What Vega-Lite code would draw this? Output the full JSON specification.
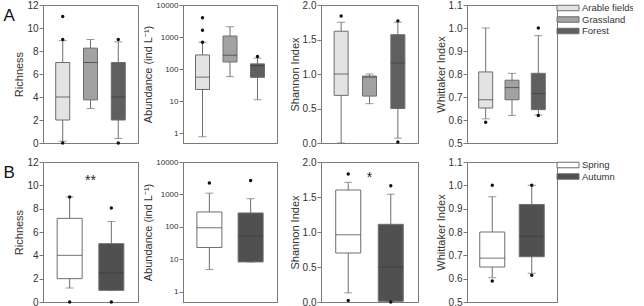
{
"$schema":"https://vega.github.io/schema/vega-lite/v6.json",
"padding":{"left":3,"top":-1,"right":0,"bottom":0},
"datasets":{
"stats":[
{"row":"A","var":"Richness","group":"Arable fields","lo":0.15,"q1":2,"med":4,"q3":7,"hi":8.9},
{"row":"A","var":"Richness","group":"Grassland","lo":3,"q1":3.75,"med":7,"q3":8.25,"hi":9},
{"row":"A","var":"Richness","group":"Forest","lo":0.4,"q1":2,"med":4,"q3":7,"hi":8.8},
{"row":"A","var":"Abundance","group":"Arable fields","lo":0.77,"q1":23,"med":56,"q3":276,"hi":690},
{"row":"A","var":"Abundance","group":"Grassland","lo":58,"q1":166,"med":270,"q3":1075,"hi":2100},
{"row":"A","var":"Abundance","group":"Forest","lo":11,"q1":55,"med":128,"q3":145,"hi":218},
{"row":"A","var":"Shannon","group":"Arable fields","lo":0.0,"q1":0.69,"med":1.0,"q3":1.62,"hi":1.75},
{"row":"A","var":"Shannon","group":"Grassland","lo":0.57,"q1":0.68,"med":0.955,"q3":0.97,"hi":1.0},
{"row":"A","var":"Shannon","group":"Forest","lo":0.07,"q1":0.5,"med":1.16,"q3":1.57,"hi":1.75},
{"row":"A","var":"Whittaker","group":"Arable fields","lo":0.605,"q1":0.652,"med":0.688,"q3":0.809,"hi":1.0},
{"row":"A","var":"Whittaker","group":"Grassland","lo":0.62,"q1":0.688,"med":0.741,"q3":0.773,"hi":0.803},
{"row":"A","var":"Whittaker","group":"Forest","lo":0.622,"q1":0.645,"med":0.715,"q3":0.803,"hi":0.967},
{"row":"B","var":"Richness","group":"Spring","lo":1.2,"q1":2,"med":4,"q3":7.17,"hi":9.0},
{"row":"B","var":"Richness","group":"Autumn","lo":1.0,"q1":1.0,"med":2.5,"q3":5.0,"hi":6.9},
{"row":"B","var":"Abundance","group":"Spring","lo":4.9,"q1":23.4,"med":94,"q3":290,"hi":1100},
{"row":"B","var":"Abundance","group":"Autumn","lo":8.4,"q1":8.4,"med":53,"q3":270,"hi":740},
{"row":"B","var":"Shannon","group":"Spring","lo":0.13,"q1":0.7,"med":0.96,"q3":1.6,"hi":1.71},
{"row":"B","var":"Shannon","group":"Autumn","lo":0.01,"q1":0.01,"med":0.5,"q3":1.11,"hi":1.54},
{"row":"B","var":"Whittaker","group":"Spring","lo":0.604,"q1":0.65,"med":0.688,"q3":0.8,"hi":0.951},
{"row":"B","var":"Whittaker","group":"Autumn","lo":0.623,"q1":0.694,"med":0.782,"q3":0.918,"hi":1.0}
],
"outliers":[
{"row":"A","var":"Richness","group":"Arable fields","v":11},
{"row":"A","var":"Richness","group":"Arable fields","v":9},
{"row":"A","var":"Richness","group":"Arable fields","v":0},
{"row":"A","var":"Richness","group":"Forest","v":9},
{"row":"A","var":"Richness","group":"Forest","v":0},
{"row":"A","var":"Abundance","group":"Arable fields","v":4000},
{"row":"A","var":"Abundance","group":"Arable fields","v":1620},
{"row":"A","var":"Abundance","group":"Arable fields","v":690},
{"row":"A","var":"Abundance","group":"Forest","v":245},
{"row":"A","var":"Shannon","group":"Arable fields","v":1.84},
{"row":"A","var":"Shannon","group":"Forest","v":1.77},
{"row":"A","var":"Shannon","group":"Forest","v":0.015},
{"row":"A","var":"Whittaker","group":"Arable fields","v":0.59},
{"row":"A","var":"Whittaker","group":"Forest","v":1.0},
{"row":"A","var":"Whittaker","group":"Forest","v":0.62},
{"row":"B","var":"Richness","group":"Spring","v":9.0},
{"row":"B","var":"Richness","group":"Spring","v":0},
{"row":"B","var":"Richness","group":"Autumn","v":8.05},
{"row":"B","var":"Richness","group":"Autumn","v":0},
{"row":"B","var":"Abundance","group":"Spring","v":2250},
{"row":"B","var":"Abundance","group":"Autumn","v":2700},
{"row":"B","var":"Shannon","group":"Spring","v":1.83},
{"row":"B","var":"Shannon","group":"Spring","v":0.02},
{"row":"B","var":"Shannon","group":"Autumn","v":1.66},
{"row":"B","var":"Shannon","group":"Autumn","v":0.0},
{"row":"B","var":"Whittaker","group":"Spring","v":1.0},
{"row":"B","var":"Whittaker","group":"Spring","v":0.59},
{"row":"B","var":"Whittaker","group":"Autumn","v":1.0},
{"row":"B","var":"Whittaker","group":"Autumn","v":0.615}
],
"notes":[
{"row":"B","var":"Richness","label":"**","v":10.4},
{"row":"B","var":"Shannon","label":"*","v":1.77}
]
},
"spacing":7,
"resolve":{"scale":{"color":"independent"},"legend":{"color":"independent"}},
"vconcat":[
{
"title":{"text":"A","anchor":"start","frame":"bounds","fontSize":17,"fontWeight":"normal","offset":-25,"dx":-10,"color":"#111"},
"spacing":10,
"resolve":{"scale":{"color":"independent"},"legend":{"color":"independent"}},
"hconcat":[
{"spacing":3,"resolve":{"scale":{"color":"independent"},"legend":{"color":"independent"}},"hconcat":[
{"width":95,"height":138,"layer":[
{"data":{"name":"stats"},"transform":[{"filter":"datum.row=='A'&&datum.var=='Richness'"}],"mark":{"type":"rule","color":"#6e6e6e"},
 "encoding":{"x":{"field":"group","type":"nominal","title":null,"scale":{"type":"point","domain":["Arable fields","Grassland","Forest"],"padding":0.71},"axis":{"labels":false,"ticks":false,"domain":true}},
 "y":{"field":"lo","type":"quantitative","scale":{"domain":[0,12],"nice":false,"zero":false},"axis":{"title":"Richness","values":[0,2,4,6,8,10,12]}},"y2":{"field":"hi"}}},
{"data":{"name":"stats"},"transform":[{"filter":"datum.row=='A'&&datum.var=='Richness'"}],"mark":{"type":"tick","color":"#6e6e6e","size":8,"thickness":1},
 "encoding":{"x":{"field":"group","type":"nominal","title":null,"scale":{"type":"point","domain":["Arable fields","Grassland","Forest"],"padding":0.71},"axis":{"labels":false,"ticks":false,"domain":true}},
 "y":{"field":"lo","type":"quantitative","scale":{"domain":[0,12],"nice":false,"zero":false},"axis":{"title":"Richness","values":[0,2,4,6,8,10,12]}}}},
{"data":{"name":"stats"},"transform":[{"filter":"datum.row=='A'&&datum.var=='Richness'"}],"mark":{"type":"tick","color":"#6e6e6e","size":8,"thickness":1},
 "encoding":{"x":{"field":"group","type":"nominal","title":null,"scale":{"type":"point","domain":["Arable fields","Grassland","Forest"],"padding":0.71},"axis":{"labels":false,"ticks":false,"domain":true}},
 "y":{"field":"hi","type":"quantitative","scale":{"domain":[0,12],"nice":false,"zero":false},"axis":{"title":"Richness","values":[0,2,4,6,8,10,12]}}}},
{"data":{"name":"stats"},"transform":[{"filter":"datum.row=='A'&&datum.var=='Richness'"}],"mark":{"type":"bar","size":14,"stroke":"#6e6e6e","strokeWidth":1},
 "encoding":{"x":{"field":"group","type":"nominal","title":null,"scale":{"type":"point","domain":["Arable fields","Grassland","Forest"],"padding":0.71},"axis":{"labels":false,"ticks":false,"domain":true}},
 "y":{"field":"q1","type":"quantitative","scale":{"domain":[0,12],"nice":false,"zero":false},"axis":{"title":"Richness","values":[0,2,4,6,8,10,12]}},"y2":{"field":"q3"},
 "color":{"field":"group","type":"nominal","scale":{"domain":["Arable fields","Grassland","Forest"],"range":["#e3e3e3","#a2a2a2","#5f5f5f"]},"legend":null}}},
{"data":{"name":"stats"},"transform":[{"filter":"datum.row=='A'&&datum.var=='Richness'"}],"mark":{"type":"tick","color":"#3a3a3a","size":14,"thickness":1},
 "encoding":{"x":{"field":"group","type":"nominal","title":null,"scale":{"type":"point","domain":["Arable fields","Grassland","Forest"],"padding":0.71},"axis":{"labels":false,"ticks":false,"domain":true}},
 "y":{"field":"med","type":"quantitative","scale":{"domain":[0,12],"nice":false,"zero":false},"axis":{"title":"Richness","values":[0,2,4,6,8,10,12]}}}},
{"data":{"name":"outliers"},"transform":[{"filter":"datum.row=='A'&&datum.var=='Richness'"}],"mark":{"type":"point","filled":true,"color":"#111","size":12,"opacity":1},
 "encoding":{"x":{"field":"group","type":"nominal","title":null,"scale":{"type":"point","domain":["Arable fields","Grassland","Forest"],"padding":0.71},"axis":{"labels":false,"ticks":false,"domain":true}},
 "y":{"field":"v","type":"quantitative","scale":{"domain":[0,12],"nice":false,"zero":false},"axis":{"title":"Richness","values":[0,2,4,6,8,10,12]}}}}
]},
{"width":94,"height":138,"layer":[
{"data":{"name":"stats"},"transform":[{"filter":"datum.row=='A'&&datum.var=='Abundance'"}],"mark":{"type":"rule","color":"#6e6e6e"},
 "encoding":{"x":{"field":"group","type":"nominal","title":null,"scale":{"type":"point","domain":["Arable fields","Grassland","Forest"],"padding":0.71},"axis":{"labels":false,"ticks":false,"domain":true}},
 "y":{"field":"lo","type":"quantitative","scale":{"type":"log","domain":[0.49,10000],"nice":false},"axis":{"title":"Abundance (ind L⁻¹)","values":[1,10,100,1000,10000],"format":"d","labelFontSize":8,"titlePadding":2}},"y2":{"field":"hi"}}},
{"data":{"name":"stats"},"transform":[{"filter":"datum.row=='A'&&datum.var=='Abundance'"}],"mark":{"type":"tick","color":"#6e6e6e","size":8,"thickness":1},
 "encoding":{"x":{"field":"group","type":"nominal","title":null,"scale":{"type":"point","domain":["Arable fields","Grassland","Forest"],"padding":0.71},"axis":{"labels":false,"ticks":false,"domain":true}},
 "y":{"field":"lo","type":"quantitative","scale":{"type":"log","domain":[0.49,10000],"nice":false},"axis":{"title":"Abundance (ind L⁻¹)","values":[1,10,100,1000,10000],"format":"d","labelFontSize":8,"titlePadding":2}}}},
{"data":{"name":"stats"},"transform":[{"filter":"datum.row=='A'&&datum.var=='Abundance'"}],"mark":{"type":"tick","color":"#6e6e6e","size":8,"thickness":1},
 "encoding":{"x":{"field":"group","type":"nominal","title":null,"scale":{"type":"point","domain":["Arable fields","Grassland","Forest"],"padding":0.71},"axis":{"labels":false,"ticks":false,"domain":true}},
 "y":{"field":"hi","type":"quantitative","scale":{"type":"log","domain":[0.49,10000],"nice":false},"axis":{"title":"Abundance (ind L⁻¹)","values":[1,10,100,1000,10000],"format":"d","labelFontSize":8,"titlePadding":2}}}},
{"data":{"name":"stats"},"transform":[{"filter":"datum.row=='A'&&datum.var=='Abundance'"}],"mark":{"type":"bar","size":14,"stroke":"#6e6e6e","strokeWidth":1},
 "encoding":{"x":{"field":"group","type":"nominal","title":null,"scale":{"type":"point","domain":["Arable fields","Grassland","Forest"],"padding":0.71},"axis":{"labels":false,"ticks":false,"domain":true}},
 "y":{"field":"q1","type":"quantitative","scale":{"type":"log","domain":[0.49,10000],"nice":false},"axis":{"title":"Abundance (ind L⁻¹)","values":[1,10,100,1000,10000],"format":"d","labelFontSize":8,"titlePadding":2}},"y2":{"field":"q3"},
 "color":{"field":"group","type":"nominal","scale":{"domain":["Arable fields","Grassland","Forest"],"range":["#e3e3e3","#a2a2a2","#5f5f5f"]},"legend":null}}},
{"data":{"name":"stats"},"transform":[{"filter":"datum.row=='A'&&datum.var=='Abundance'"}],"mark":{"type":"tick","color":"#3a3a3a","size":14,"thickness":1},
 "encoding":{"x":{"field":"group","type":"nominal","title":null,"scale":{"type":"point","domain":["Arable fields","Grassland","Forest"],"padding":0.71},"axis":{"labels":false,"ticks":false,"domain":true}},
 "y":{"field":"med","type":"quantitative","scale":{"type":"log","domain":[0.49,10000],"nice":false},"axis":{"title":"Abundance (ind L⁻¹)","values":[1,10,100,1000,10000],"format":"d","labelFontSize":8,"titlePadding":2}}}},
{"data":{"name":"outliers"},"transform":[{"filter":"datum.row=='A'&&datum.var=='Abundance'"}],"mark":{"type":"point","filled":true,"color":"#111","size":12,"opacity":1},
 "encoding":{"x":{"field":"group","type":"nominal","title":null,"scale":{"type":"point","domain":["Arable fields","Grassland","Forest"],"padding":0.71},"axis":{"labels":false,"ticks":false,"domain":true}},
 "y":{"field":"v","type":"quantitative","scale":{"type":"log","domain":[0.49,10000],"nice":false},"axis":{"title":"Abundance (ind L⁻¹)","values":[1,10,100,1000,10000],"format":"d","labelFontSize":8,"titlePadding":2}}}}
]}
]},
{"spacing":15,"resolve":{"scale":{"color":"independent"},"legend":{"color":"independent"}},"hconcat":[
{"width":97,"height":138,"layer":[
{"data":{"name":"stats"},"transform":[{"filter":"datum.row=='A'&&datum.var=='Shannon'"}],"mark":{"type":"rule","color":"#6e6e6e"},
 "encoding":{"x":{"field":"group","type":"nominal","title":null,"scale":{"type":"point","domain":["Arable fields","Grassland","Forest"],"padding":0.71},"axis":{"labels":false,"ticks":false,"domain":true}},
 "y":{"field":"lo","type":"quantitative","scale":{"domain":[0,2],"nice":false,"zero":false},"axis":{"title":"Shannon Index","values":[0,0.5,1,1.5,2],"format":".1f"}},"y2":{"field":"hi"}}},
{"data":{"name":"stats"},"transform":[{"filter":"datum.row=='A'&&datum.var=='Shannon'"}],"mark":{"type":"tick","color":"#6e6e6e","size":8,"thickness":1},
 "encoding":{"x":{"field":"group","type":"nominal","title":null,"scale":{"type":"point","domain":["Arable fields","Grassland","Forest"],"padding":0.71},"axis":{"labels":false,"ticks":false,"domain":true}},
 "y":{"field":"lo","type":"quantitative","scale":{"domain":[0,2],"nice":false,"zero":false},"axis":{"title":"Shannon Index","values":[0,0.5,1,1.5,2],"format":".1f"}}}},
{"data":{"name":"stats"},"transform":[{"filter":"datum.row=='A'&&datum.var=='Shannon'"}],"mark":{"type":"tick","color":"#6e6e6e","size":8,"thickness":1},
 "encoding":{"x":{"field":"group","type":"nominal","title":null,"scale":{"type":"point","domain":["Arable fields","Grassland","Forest"],"padding":0.71},"axis":{"labels":false,"ticks":false,"domain":true}},
 "y":{"field":"hi","type":"quantitative","scale":{"domain":[0,2],"nice":false,"zero":false},"axis":{"title":"Shannon Index","values":[0,0.5,1,1.5,2],"format":".1f"}}}},
{"data":{"name":"stats"},"transform":[{"filter":"datum.row=='A'&&datum.var=='Shannon'"}],"mark":{"type":"bar","size":14,"stroke":"#6e6e6e","strokeWidth":1},
 "encoding":{"x":{"field":"group","type":"nominal","title":null,"scale":{"type":"point","domain":["Arable fields","Grassland","Forest"],"padding":0.71},"axis":{"labels":false,"ticks":false,"domain":true}},
 "y":{"field":"q1","type":"quantitative","scale":{"domain":[0,2],"nice":false,"zero":false},"axis":{"title":"Shannon Index","values":[0,0.5,1,1.5,2],"format":".1f"}},"y2":{"field":"q3"},
 "color":{"field":"group","type":"nominal","scale":{"domain":["Arable fields","Grassland","Forest"],"range":["#e3e3e3","#a2a2a2","#5f5f5f"]},"legend":null}}},
{"data":{"name":"stats"},"transform":[{"filter":"datum.row=='A'&&datum.var=='Shannon'"}],"mark":{"type":"tick","color":"#3a3a3a","size":14,"thickness":1},
 "encoding":{"x":{"field":"group","type":"nominal","title":null,"scale":{"type":"point","domain":["Arable fields","Grassland","Forest"],"padding":0.71},"axis":{"labels":false,"ticks":false,"domain":true}},
 "y":{"field":"med","type":"quantitative","scale":{"domain":[0,2],"nice":false,"zero":false},"axis":{"title":"Shannon Index","values":[0,0.5,1,1.5,2],"format":".1f"}}}},
{"data":{"name":"outliers"},"transform":[{"filter":"datum.row=='A'&&datum.var=='Shannon'"}],"mark":{"type":"point","filled":true,"color":"#111","size":12,"opacity":1},
 "encoding":{"x":{"field":"group","type":"nominal","title":null,"scale":{"type":"point","domain":["Arable fields","Grassland","Forest"],"padding":0.71},"axis":{"labels":false,"ticks":false,"domain":true}},
 "y":{"field":"v","type":"quantitative","scale":{"domain":[0,2],"nice":false,"zero":false},"axis":{"title":"Shannon Index","values":[0,0.5,1,1.5,2],"format":".1f"}}}}
]},
{"width":90,"height":138,"layer":[
{"data":{"name":"stats"},"transform":[{"filter":"datum.row=='A'&&datum.var=='Whittaker'"}],"mark":{"type":"rule","color":"#6e6e6e"},
 "encoding":{"x":{"field":"group","type":"nominal","title":null,"scale":{"type":"point","domain":["Arable fields","Grassland","Forest"],"padding":0.71},"axis":{"labels":false,"ticks":false,"domain":true}},
 "y":{"field":"lo","type":"quantitative","scale":{"domain":[0.5,1.1],"nice":false,"zero":false},"axis":{"title":"Whittaker Index","values":[0.5,0.6,0.7,0.8,0.9,1.0,1.1],"format":".1f"}},"y2":{"field":"hi"}}},
{"data":{"name":"stats"},"transform":[{"filter":"datum.row=='A'&&datum.var=='Whittaker'"}],"mark":{"type":"tick","color":"#6e6e6e","size":8,"thickness":1},
 "encoding":{"x":{"field":"group","type":"nominal","title":null,"scale":{"type":"point","domain":["Arable fields","Grassland","Forest"],"padding":0.71},"axis":{"labels":false,"ticks":false,"domain":true}},
 "y":{"field":"lo","type":"quantitative","scale":{"domain":[0.5,1.1],"nice":false,"zero":false},"axis":{"title":"Whittaker Index","values":[0.5,0.6,0.7,0.8,0.9,1.0,1.1],"format":".1f"}}}},
{"data":{"name":"stats"},"transform":[{"filter":"datum.row=='A'&&datum.var=='Whittaker'"}],"mark":{"type":"tick","color":"#6e6e6e","size":8,"thickness":1},
 "encoding":{"x":{"field":"group","type":"nominal","title":null,"scale":{"type":"point","domain":["Arable fields","Grassland","Forest"],"padding":0.71},"axis":{"labels":false,"ticks":false,"domain":true}},
 "y":{"field":"hi","type":"quantitative","scale":{"domain":[0.5,1.1],"nice":false,"zero":false},"axis":{"title":"Whittaker Index","values":[0.5,0.6,0.7,0.8,0.9,1.0,1.1],"format":".1f"}}}},
{"data":{"name":"stats"},"transform":[{"filter":"datum.row=='A'&&datum.var=='Whittaker'"}],"mark":{"type":"bar","size":14,"stroke":"#6e6e6e","strokeWidth":1},
 "encoding":{"x":{"field":"group","type":"nominal","title":null,"scale":{"type":"point","domain":["Arable fields","Grassland","Forest"],"padding":0.71},"axis":{"labels":false,"ticks":false,"domain":true}},
 "y":{"field":"q1","type":"quantitative","scale":{"domain":[0.5,1.1],"nice":false,"zero":false},"axis":{"title":"Whittaker Index","values":[0.5,0.6,0.7,0.8,0.9,1.0,1.1],"format":".1f"}},"y2":{"field":"q3"},
 "color":{"field":"group","type":"nominal","scale":{"domain":["Arable fields","Grassland","Forest"],"range":["#e3e3e3","#a2a2a2","#5f5f5f"]},"legend":{"title":null}}}},
{"data":{"name":"stats"},"transform":[{"filter":"datum.row=='A'&&datum.var=='Whittaker'"}],"mark":{"type":"tick","color":"#3a3a3a","size":14,"thickness":1},
 "encoding":{"x":{"field":"group","type":"nominal","title":null,"scale":{"type":"point","domain":["Arable fields","Grassland","Forest"],"padding":0.71},"axis":{"labels":false,"ticks":false,"domain":true}},
 "y":{"field":"med","type":"quantitative","scale":{"domain":[0.5,1.1],"nice":false,"zero":false},"axis":{"title":"Whittaker Index","values":[0.5,0.6,0.7,0.8,0.9,1.0,1.1],"format":".1f"}}}},
{"data":{"name":"outliers"},"transform":[{"filter":"datum.row=='A'&&datum.var=='Whittaker'"}],"mark":{"type":"point","filled":true,"color":"#111","size":12,"opacity":1},
 "encoding":{"x":{"field":"group","type":"nominal","title":null,"scale":{"type":"point","domain":["Arable fields","Grassland","Forest"],"padding":0.71},"axis":{"labels":false,"ticks":false,"domain":true}},
 "y":{"field":"v","type":"quantitative","scale":{"domain":[0.5,1.1],"nice":false,"zero":false},"axis":{"title":"Whittaker Index","values":[0.5,0.6,0.7,0.8,0.9,1.0,1.1],"format":".1f"}}}}
]}
]}
]
},
{
"title":{"text":"B","anchor":"start","frame":"bounds","fontSize":17,"fontWeight":"normal","offset":-25,"dx":-10,"color":"#111"},
"spacing":10,
"resolve":{"scale":{"color":"independent"},"legend":{"color":"independent"}},
"hconcat":[
{"spacing":3,"resolve":{"scale":{"color":"independent"},"legend":{"color":"independent"}},"hconcat":[
{"width":95,"height":140,"layer":[
{"data":{"name":"stats"},"transform":[{"filter":"datum.row=='B'&&datum.var=='Richness'"}],"mark":{"type":"rule","color":"#6e6e6e"},
 "encoding":{"x":{"field":"group","type":"nominal","title":null,"scale":{"type":"point","domain":["Spring","Autumn"],"padding":0.64},"axis":{"labels":false,"ticks":false,"domain":true}},
 "y":{"field":"lo","type":"quantitative","scale":{"domain":[0,12],"nice":false,"zero":false},"axis":{"title":"Richness","values":[0,2,4,6,8,10,12]}},"y2":{"field":"hi"}}},
{"data":{"name":"stats"},"transform":[{"filter":"datum.row=='B'&&datum.var=='Richness'"}],"mark":{"type":"tick","color":"#6e6e6e","size":8,"thickness":1},
 "encoding":{"x":{"field":"group","type":"nominal","title":null,"scale":{"type":"point","domain":["Spring","Autumn"],"padding":0.64},"axis":{"labels":false,"ticks":false,"domain":true}},
 "y":{"field":"lo","type":"quantitative","scale":{"domain":[0,12],"nice":false,"zero":false},"axis":{"title":"Richness","values":[0,2,4,6,8,10,12]}}}},
{"data":{"name":"stats"},"transform":[{"filter":"datum.row=='B'&&datum.var=='Richness'"}],"mark":{"type":"tick","color":"#6e6e6e","size":8,"thickness":1},
 "encoding":{"x":{"field":"group","type":"nominal","title":null,"scale":{"type":"point","domain":["Spring","Autumn"],"padding":0.64},"axis":{"labels":false,"ticks":false,"domain":true}},
 "y":{"field":"hi","type":"quantitative","scale":{"domain":[0,12],"nice":false,"zero":false},"axis":{"title":"Richness","values":[0,2,4,6,8,10,12]}}}},
{"data":{"name":"stats"},"transform":[{"filter":"datum.row=='B'&&datum.var=='Richness'"}],"mark":{"type":"bar","size":25,"stroke":"#6e6e6e","strokeWidth":1},
 "encoding":{"x":{"field":"group","type":"nominal","title":null,"scale":{"type":"point","domain":["Spring","Autumn"],"padding":0.64},"axis":{"labels":false,"ticks":false,"domain":true}},
 "y":{"field":"q1","type":"quantitative","scale":{"domain":[0,12],"nice":false,"zero":false},"axis":{"title":"Richness","values":[0,2,4,6,8,10,12]}},"y2":{"field":"q3"},
 "color":{"field":"group","type":"nominal","scale":{"domain":["Spring","Autumn"],"range":["#ffffff","#505050"]},"legend":null}}},
{"data":{"name":"stats"},"transform":[{"filter":"datum.row=='B'&&datum.var=='Richness'"}],"mark":{"type":"tick","color":"#3a3a3a","size":25,"thickness":1},
 "encoding":{"x":{"field":"group","type":"nominal","title":null,"scale":{"type":"point","domain":["Spring","Autumn"],"padding":0.64},"axis":{"labels":false,"ticks":false,"domain":true}},
 "y":{"field":"med","type":"quantitative","scale":{"domain":[0,12],"nice":false,"zero":false},"axis":{"title":"Richness","values":[0,2,4,6,8,10,12]}}}},
{"data":{"name":"outliers"},"transform":[{"filter":"datum.row=='B'&&datum.var=='Richness'"}],"mark":{"type":"point","filled":true,"color":"#111","size":12,"opacity":1},
 "encoding":{"x":{"field":"group","type":"nominal","title":null,"scale":{"type":"point","domain":["Spring","Autumn"],"padding":0.64},"axis":{"labels":false,"ticks":false,"domain":true}},
 "y":{"field":"v","type":"quantitative","scale":{"domain":[0,12],"nice":false,"zero":false},"axis":{"title":"Richness","values":[0,2,4,6,8,10,12]}}}},
{"data":{"name":"notes"},"transform":[{"filter":"datum.row=='B'&&datum.var=='Richness'"}],"mark":{"type":"text","fontSize":14,"color":"#222","baseline":"middle"},
 "encoding":{"y":{"field":"v","type":"quantitative","scale":{"domain":[0,12],"nice":false,"zero":false},"axis":{"title":"Richness","values":[0,2,4,6,8,10,12]}},"text":{"field":"label"}}}
]},
{"width":94,"height":140,"layer":[
{"data":{"name":"stats"},"transform":[{"filter":"datum.row=='B'&&datum.var=='Abundance'"}],"mark":{"type":"rule","color":"#6e6e6e"},
 "encoding":{"x":{"field":"group","type":"nominal","title":null,"scale":{"type":"point","domain":["Spring","Autumn"],"padding":0.64},"axis":{"labels":false,"ticks":false,"domain":true}},
 "y":{"field":"lo","type":"quantitative","scale":{"type":"log","domain":[0.49,10000],"nice":false},"axis":{"title":"Abundance (ind L⁻¹)","values":[1,10,100,1000,10000],"format":"d","labelFontSize":8,"titlePadding":2}},"y2":{"field":"hi"}}},
{"data":{"name":"stats"},"transform":[{"filter":"datum.row=='B'&&datum.var=='Abundance'"}],"mark":{"type":"tick","color":"#6e6e6e","size":8,"thickness":1},
 "encoding":{"x":{"field":"group","type":"nominal","title":null,"scale":{"type":"point","domain":["Spring","Autumn"],"padding":0.64},"axis":{"labels":false,"ticks":false,"domain":true}},
 "y":{"field":"lo","type":"quantitative","scale":{"type":"log","domain":[0.49,10000],"nice":false},"axis":{"title":"Abundance (ind L⁻¹)","values":[1,10,100,1000,10000],"format":"d","labelFontSize":8,"titlePadding":2}}}},
{"data":{"name":"stats"},"transform":[{"filter":"datum.row=='B'&&datum.var=='Abundance'"}],"mark":{"type":"tick","color":"#6e6e6e","size":8,"thickness":1},
 "encoding":{"x":{"field":"group","type":"nominal","title":null,"scale":{"type":"point","domain":["Spring","Autumn"],"padding":0.64},"axis":{"labels":false,"ticks":false,"domain":true}},
 "y":{"field":"hi","type":"quantitative","scale":{"type":"log","domain":[0.49,10000],"nice":false},"axis":{"title":"Abundance (ind L⁻¹)","values":[1,10,100,1000,10000],"format":"d","labelFontSize":8,"titlePadding":2}}}},
{"data":{"name":"stats"},"transform":[{"filter":"datum.row=='B'&&datum.var=='Abundance'"}],"mark":{"type":"bar","size":25,"stroke":"#6e6e6e","strokeWidth":1},
 "encoding":{"x":{"field":"group","type":"nominal","title":null,"scale":{"type":"point","domain":["Spring","Autumn"],"padding":0.64},"axis":{"labels":false,"ticks":false,"domain":true}},
 "y":{"field":"q1","type":"quantitative","scale":{"type":"log","domain":[0.49,10000],"nice":false},"axis":{"title":"Abundance (ind L⁻¹)","values":[1,10,100,1000,10000],"format":"d","labelFontSize":8,"titlePadding":2}},"y2":{"field":"q3"},
 "color":{"field":"group","type":"nominal","scale":{"domain":["Spring","Autumn"],"range":["#ffffff","#505050"]},"legend":null}}},
{"data":{"name":"stats"},"transform":[{"filter":"datum.row=='B'&&datum.var=='Abundance'"}],"mark":{"type":"tick","color":"#3a3a3a","size":25,"thickness":1},
 "encoding":{"x":{"field":"group","type":"nominal","title":null,"scale":{"type":"point","domain":["Spring","Autumn"],"padding":0.64},"axis":{"labels":false,"ticks":false,"domain":true}},
 "y":{"field":"med","type":"quantitative","scale":{"type":"log","domain":[0.49,10000],"nice":false},"axis":{"title":"Abundance (ind L⁻¹)","values":[1,10,100,1000,10000],"format":"d","labelFontSize":8,"titlePadding":2}}}},
{"data":{"name":"outliers"},"transform":[{"filter":"datum.row=='B'&&datum.var=='Abundance'"}],"mark":{"type":"point","filled":true,"color":"#111","size":12,"opacity":1},
 "encoding":{"x":{"field":"group","type":"nominal","title":null,"scale":{"type":"point","domain":["Spring","Autumn"],"padding":0.64},"axis":{"labels":false,"ticks":false,"domain":true}},
 "y":{"field":"v","type":"quantitative","scale":{"type":"log","domain":[0.49,10000],"nice":false},"axis":{"title":"Abundance (ind L⁻¹)","values":[1,10,100,1000,10000],"format":"d","labelFontSize":8,"titlePadding":2}}}}
]}
]},
{"spacing":15,"resolve":{"scale":{"color":"independent"},"legend":{"color":"independent"}},"hconcat":[
{"width":97,"height":140,"layer":[
{"data":{"name":"stats"},"transform":[{"filter":"datum.row=='B'&&datum.var=='Shannon'"}],"mark":{"type":"rule","color":"#6e6e6e"},
 "encoding":{"x":{"field":"group","type":"nominal","title":null,"scale":{"type":"point","domain":["Spring","Autumn"],"padding":0.64},"axis":{"labels":false,"ticks":false,"domain":true}},
 "y":{"field":"lo","type":"quantitative","scale":{"domain":[0,2],"nice":false,"zero":false},"axis":{"title":"Shannon Index","values":[0,0.5,1,1.5,2],"format":".1f"}},"y2":{"field":"hi"}}},
{"data":{"name":"stats"},"transform":[{"filter":"datum.row=='B'&&datum.var=='Shannon'"}],"mark":{"type":"tick","color":"#6e6e6e","size":8,"thickness":1},
 "encoding":{"x":{"field":"group","type":"nominal","title":null,"scale":{"type":"point","domain":["Spring","Autumn"],"padding":0.64},"axis":{"labels":false,"ticks":false,"domain":true}},
 "y":{"field":"lo","type":"quantitative","scale":{"domain":[0,2],"nice":false,"zero":false},"axis":{"title":"Shannon Index","values":[0,0.5,1,1.5,2],"format":".1f"}}}},
{"data":{"name":"stats"},"transform":[{"filter":"datum.row=='B'&&datum.var=='Shannon'"}],"mark":{"type":"tick","color":"#6e6e6e","size":8,"thickness":1},
 "encoding":{"x":{"field":"group","type":"nominal","title":null,"scale":{"type":"point","domain":["Spring","Autumn"],"padding":0.64},"axis":{"labels":false,"ticks":false,"domain":true}},
 "y":{"field":"hi","type":"quantitative","scale":{"domain":[0,2],"nice":false,"zero":false},"axis":{"title":"Shannon Index","values":[0,0.5,1,1.5,2],"format":".1f"}}}},
{"data":{"name":"stats"},"transform":[{"filter":"datum.row=='B'&&datum.var=='Shannon'"}],"mark":{"type":"bar","size":25,"stroke":"#6e6e6e","strokeWidth":1},
 "encoding":{"x":{"field":"group","type":"nominal","title":null,"scale":{"type":"point","domain":["Spring","Autumn"],"padding":0.64},"axis":{"labels":false,"ticks":false,"domain":true}},
 "y":{"field":"q1","type":"quantitative","scale":{"domain":[0,2],"nice":false,"zero":false},"axis":{"title":"Shannon Index","values":[0,0.5,1,1.5,2],"format":".1f"}},"y2":{"field":"q3"},
 "color":{"field":"group","type":"nominal","scale":{"domain":["Spring","Autumn"],"range":["#ffffff","#505050"]},"legend":null}}},
{"data":{"name":"stats"},"transform":[{"filter":"datum.row=='B'&&datum.var=='Shannon'"}],"mark":{"type":"tick","color":"#3a3a3a","size":25,"thickness":1},
 "encoding":{"x":{"field":"group","type":"nominal","title":null,"scale":{"type":"point","domain":["Spring","Autumn"],"padding":0.64},"axis":{"labels":false,"ticks":false,"domain":true}},
 "y":{"field":"med","type":"quantitative","scale":{"domain":[0,2],"nice":false,"zero":false},"axis":{"title":"Shannon Index","values":[0,0.5,1,1.5,2],"format":".1f"}}}},
{"data":{"name":"outliers"},"transform":[{"filter":"datum.row=='B'&&datum.var=='Shannon'"}],"mark":{"type":"point","filled":true,"color":"#111","size":12,"opacity":1},
 "encoding":{"x":{"field":"group","type":"nominal","title":null,"scale":{"type":"point","domain":["Spring","Autumn"],"padding":0.64},"axis":{"labels":false,"ticks":false,"domain":true}},
 "y":{"field":"v","type":"quantitative","scale":{"domain":[0,2],"nice":false,"zero":false},"axis":{"title":"Shannon Index","values":[0,0.5,1,1.5,2],"format":".1f"}}}},
{"data":{"name":"notes"},"transform":[{"filter":"datum.row=='B'&&datum.var=='Shannon'"}],"mark":{"type":"text","fontSize":14,"color":"#222","baseline":"middle"},
 "encoding":{"y":{"field":"v","type":"quantitative","scale":{"domain":[0,2],"nice":false,"zero":false},"axis":{"title":"Shannon Index","values":[0,0.5,1,1.5,2],"format":".1f"}},"text":{"field":"label"}}}
]},
{"width":90,"height":140,"layer":[
{"data":{"name":"stats"},"transform":[{"filter":"datum.row=='B'&&datum.var=='Whittaker'"}],"mark":{"type":"rule","color":"#6e6e6e"},
 "encoding":{"x":{"field":"group","type":"nominal","title":null,"scale":{"type":"point","domain":["Spring","Autumn"],"padding":0.64},"axis":{"labels":false,"ticks":false,"domain":true}},
 "y":{"field":"lo","type":"quantitative","scale":{"domain":[0.5,1.1],"nice":false,"zero":false},"axis":{"title":"Whittaker Index","values":[0.5,0.6,0.7,0.8,0.9,1.0,1.1],"format":".1f"}},"y2":{"field":"hi"}}},
{"data":{"name":"stats"},"transform":[{"filter":"datum.row=='B'&&datum.var=='Whittaker'"}],"mark":{"type":"tick","color":"#6e6e6e","size":8,"thickness":1},
 "encoding":{"x":{"field":"group","type":"nominal","title":null,"scale":{"type":"point","domain":["Spring","Autumn"],"padding":0.64},"axis":{"labels":false,"ticks":false,"domain":true}},
 "y":{"field":"lo","type":"quantitative","scale":{"domain":[0.5,1.1],"nice":false,"zero":false},"axis":{"title":"Whittaker Index","values":[0.5,0.6,0.7,0.8,0.9,1.0,1.1],"format":".1f"}}}},
{"data":{"name":"stats"},"transform":[{"filter":"datum.row=='B'&&datum.var=='Whittaker'"}],"mark":{"type":"tick","color":"#6e6e6e","size":8,"thickness":1},
 "encoding":{"x":{"field":"group","type":"nominal","title":null,"scale":{"type":"point","domain":["Spring","Autumn"],"padding":0.64},"axis":{"labels":false,"ticks":false,"domain":true}},
 "y":{"field":"hi","type":"quantitative","scale":{"domain":[0.5,1.1],"nice":false,"zero":false},"axis":{"title":"Whittaker Index","values":[0.5,0.6,0.7,0.8,0.9,1.0,1.1],"format":".1f"}}}},
{"data":{"name":"stats"},"transform":[{"filter":"datum.row=='B'&&datum.var=='Whittaker'"}],"mark":{"type":"bar","size":25,"stroke":"#6e6e6e","strokeWidth":1},
 "encoding":{"x":{"field":"group","type":"nominal","title":null,"scale":{"type":"point","domain":["Spring","Autumn"],"padding":0.64},"axis":{"labels":false,"ticks":false,"domain":true}},
 "y":{"field":"q1","type":"quantitative","scale":{"domain":[0.5,1.1],"nice":false,"zero":false},"axis":{"title":"Whittaker Index","values":[0.5,0.6,0.7,0.8,0.9,1.0,1.1],"format":".1f"}},"y2":{"field":"q3"},
 "color":{"field":"group","type":"nominal","scale":{"domain":["Spring","Autumn"],"range":["#ffffff","#505050"]},"legend":{"title":null}}}},
{"data":{"name":"stats"},"transform":[{"filter":"datum.row=='B'&&datum.var=='Whittaker'"}],"mark":{"type":"tick","color":"#3a3a3a","size":25,"thickness":1},
 "encoding":{"x":{"field":"group","type":"nominal","title":null,"scale":{"type":"point","domain":["Spring","Autumn"],"padding":0.64},"axis":{"labels":false,"ticks":false,"domain":true}},
 "y":{"field":"med","type":"quantitative","scale":{"domain":[0.5,1.1],"nice":false,"zero":false},"axis":{"title":"Whittaker Index","values":[0.5,0.6,0.7,0.8,0.9,1.0,1.1],"format":".1f"}}}},
{"data":{"name":"outliers"},"transform":[{"filter":"datum.row=='B'&&datum.var=='Whittaker'"}],"mark":{"type":"point","filled":true,"color":"#111","size":12,"opacity":1},
 "encoding":{"x":{"field":"group","type":"nominal","title":null,"scale":{"type":"point","domain":["Spring","Autumn"],"padding":0.64},"axis":{"labels":false,"ticks":false,"domain":true}},
 "y":{"field":"v","type":"quantitative","scale":{"domain":[0.5,1.1],"nice":false,"zero":false},"axis":{"title":"Whittaker Index","values":[0.5,0.6,0.7,0.8,0.9,1.0,1.1],"format":".1f"}}}}
]}
]}
]
}
],
"config":{
"font":"Liberation Sans",
"view":{"stroke":"#7a7a7a","strokeWidth":1},
"axis":{"grid":false,"domainColor":"#7a7a7a","tickColor":"#7a7a7a","labelColor":"#333","titleColor":"#333","labelFontSize":10,"titleFontSize":11,"titleFontWeight":"normal","tickSize":4,"labelPadding":1,"titlePadding":2,"labelFont":"Liberation Sans","titleFont":"Liberation Sans"},
"legend":{"orient":"right","offset":8,"padding":-3,"labelFontSize":9.5,"labelColor":"#333","labelOffset":8,"rowPadding":0.5,"symbolType":"M-2,-0.5H2V0.5H-2Z","symbolSize":121,"symbolStrokeColor":"#6e6e6e","symbolStrokeWidth":1,"labelFont":"Liberation Sans"},
"title":{"font":"Liberation Sans"}
}
}
